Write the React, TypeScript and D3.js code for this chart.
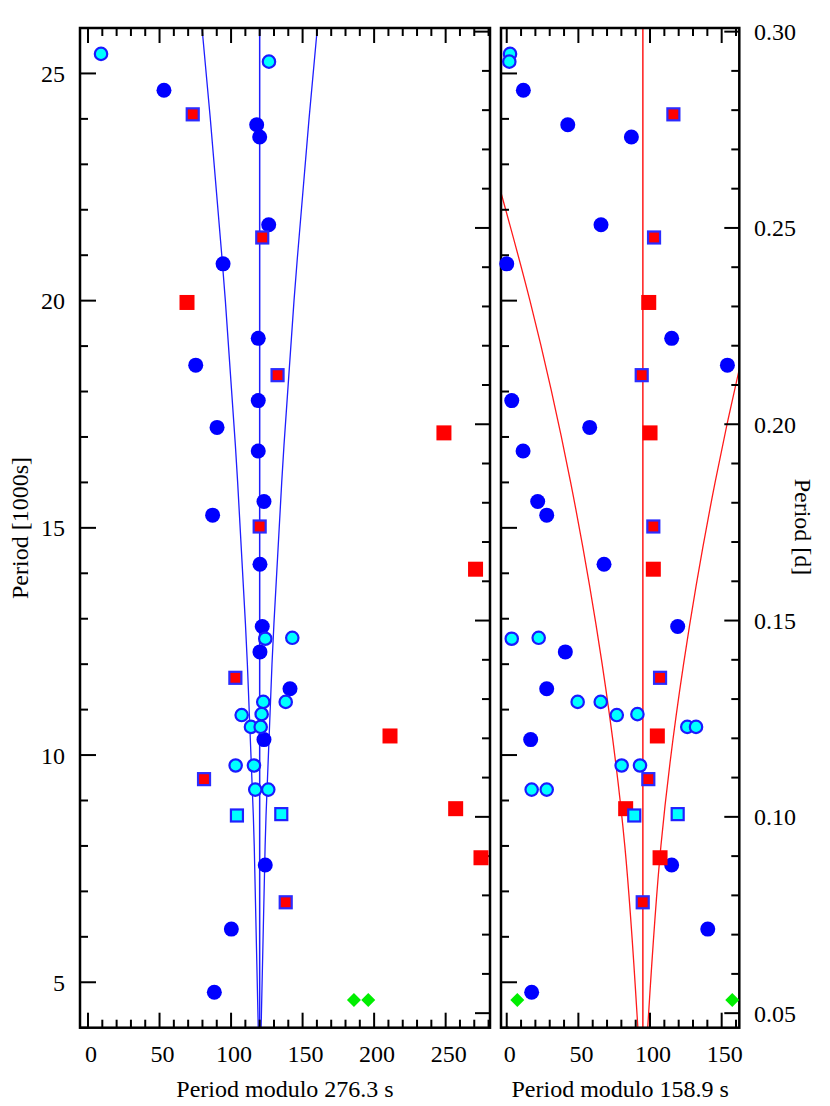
import React from 'react';
import * as d3 from 'd3';

// periods are in 1000 s; mod276 / mod159 are the phases (s)

// filled blue circles
const dotPeriod = [24.63, 23.87, 23.6, 21.67, 20.81, 19.17, 18.58, 17.8, 17.21, 16.69, 15.58, 15.28, 14.2, 12.83, 12.27, 11.46, 10.34, 7.58, 6.17, 4.78];
const dotMod276 = [53.1, 117.9, 120.0, 126.3, 94.4, 119.0, 75.3, 119.0, 90.2, 119.0, 123.0, 87.1, 120.2, 121.8, 120.2, 141.2, 123.0, 123.9, 100.2, 88.3];
const dotMod159 = [11.6, 42.6, 87.0, 65.8, 0.0, 115.1, 154.0, 3.5, 57.9, 11.4, 21.6, 27.9, 67.9, 119.3, 40.9, 27.9, 16.7, 115.1, 140.3, 17.4];

// cyan circles, blue rim
const ringPeriod = [25.43, 25.26, 12.56, 12.58, 11.17, 11.17, 10.88, 10.9, 10.62, 10.62, 9.77, 9.77, 9.24, 9.24];
const ringMod276 = [9.1, 126.5, 123.9, 142.8, 122.5, 138.2, 107.4, 121.4, 113.9, 120.7, 103.2, 116.0, 116.9, 126.0];
const ringMod159 = [2.3, 1.8, 3.5, 22.3, 49.5, 65.6, 76.8, 91.2, 126.0, 132.1, 80.2, 93.0, 17.4, 27.9];

// red squares, blue rim
const boxPeriod = [24.1, 21.39, 18.36, 15.03, 11.7, 9.47, 6.76];
const boxMod276 = [73.2, 121.8, 132.5, 120.0, 103.0, 81.1, 138.2];
const boxMod159 = [116.3, 102.8, 94.2, 102.3, 107.0, 98.8, 94.9];

// plain red squares
const redPeriod = [19.96, 17.09, 14.09, 10.42, 8.82, 7.74];
const redMod276 = [69.2, 248.8, 270.9, 211.1, 257.0, 274.7];
const redMod159 = [99.1, 100.0, 102.3, 105.1, 83.0, 107.0];

// cyan squares
const cyanBoxPeriod = [8.67, 8.7];
const cyanBoxMod276 = [104.1, 135.1];
const cyanBoxMod159 = [89.0, 119.3];

// green diamonds
const diamondPeriod = [4.61, 4.61];
const diamondMod276 = [185.9, 195.9];
const diamondMod159 = [7.4, 157.4];

// guide curves
const blueGuidePeriod = [4, 8, 12, 16, 20, 24, 26];
const blueGuideLeft = [119.0, 116.2, 111.4, 104.6, 96.0, 85.5, 79.7];
const blueGuideRight = [121.0, 123.8, 128.6, 135.4, 144.0, 154.5, 160.3];
const blueCentre = 120.0;

const redGuidePeriod = [4, 8, 12, 16, 20, 24];
const redGuideLeft = [91.5, 82.4, 66.6, 44.6, 16.2, -18.5];
const redGuideRight = [98.4, 107.6, 123.4, 145.4, 173.8, 208.5];
const redCentre = 95.0;

// ticks
const periodTicks = [5, 10, 15, 20, 25];
const dayTicks = [0.05, 0.1, 0.15, 0.2, 0.25, 0.3];
const mod276Ticks = [0, 50, 100, 150, 200, 250];
const mod159Ticks = [0, 50, 100, 150];

const WIDTH = 830;
const HEIGHT = 1106;
const TOP = 28;
const BOTTOM = 1027.7;
const FONT = "'Liberation Serif', 'Times New Roman', serif";

const y = d3.scaleLinear().domain([4, 26]).range([BOTTOM, TOP]);
const xA = d3.scaleLinear().domain([-5.6, 281]).range([80, 490]);
const xB = d3.scaleLinear().domain([-4, 162.3]).range([501, 739.3]);

function zipSeries(period, mods) {
  return period.map((p, i) => [mods[i], p]);
}

function Markers({ x, mods }) {
  const dots = zipSeries(dotPeriod, mods.dot);
  const rings = zipSeries(ringPeriod, mods.ring);
  const boxes = zipSeries(boxPeriod, mods.box);
  const reds = zipSeries(redPeriod, mods.red);
  const cyanBoxes = zipSeries(cyanBoxPeriod, mods.cyanBox);
  const diamonds = zipSeries(diamondPeriod, mods.diamond);
  return (
    <g>
      {dots.map((d, i) => (
        <circle key={'d' + i} cx={x(d[0])} cy={y(d[1])} r={7.5} fill="#0000ff" />
      ))}
      {rings.map((d, i) => (
        <circle key={'r' + i} cx={x(d[0])} cy={y(d[1])} r={6.2} fill="#00ffff" stroke="#1a1aff" strokeWidth={2.2} />
      ))}
      {boxes.map((d, i) => (
        <rect key={'b' + i} x={x(d[0]) - 6} y={y(d[1]) - 6} width={12} height={12} fill="#ff0000" stroke="#2b2bff" strokeWidth={2.2} />
      ))}
      {reds.map((d, i) => (
        <rect key={'q' + i} x={x(d[0]) - 7.5} y={y(d[1]) - 7.5} width={15} height={15} fill="#ff0000" />
      ))}
      {cyanBoxes.map((d, i) => (
        <rect key={'c' + i} x={x(d[0]) - 6} y={y(d[1]) - 6} width={12} height={12} fill="#00ffff" stroke="#2020ff" strokeWidth={2.2} />
      ))}
      {diamonds.map((d, i) => {
        const cx = x(d[0]);
        const cy = y(d[1]);
        const s = 7;
        return (
          <polygon key={'g' + i} points={`${cx},${cy - s} ${cx + s},${cy} ${cx},${cy + s} ${cx - s},${cy}`} fill="#00ee00" />
        );
      })}
    </g>
  );
}

function Panel({ x, majors, title, clipId, guides, guideColor, leftLabels, rightLabels }) {
  const [x0, x1] = x.range();
  const [d0, d1] = x.domain();
  const minorX = d3.range(Math.ceil(d0 / 10) * 10, d1, 10).filter((v) => !majors.includes(v) && v >= 0);
  const minorP = d3.range(4, 27).filter((v) => !periodTicks.includes(v));
  const minorD = d3.range(5, 31).map((v) => v / 100).filter((v) => !dayTicks.some((t) => Math.abs(t - v) < 1e-9));
  const line = d3
    .line()
    .x((d) => x(d[0]))
    .y((d) => y(d[1]))
    .curve(d3.curveNatural);

  const tick = (x1_, y1_, x2_, y2_, key) => (
    <line key={key} x1={x1_} y1={y1_} x2={x2_} y2={y2_} stroke="#000" strokeWidth={2} />
  );

  return (
    <g>
      <defs>
        <clipPath id={clipId}>
          <rect x={x0} y={TOP} width={x1 - x0} height={BOTTOM - TOP} />
        </clipPath>
      </defs>

      <g clipPath={`url(#${clipId})`}>
        {guides.curves.map((c, i) => (
          <path key={i} d={line(c)} fill="none" stroke={guideColor} strokeWidth={1.3} />
        ))}
        <line x1={x(guides.centre)} x2={x(guides.centre)} y1={y(4)} y2={y(26)} stroke={guideColor} strokeWidth={1.5} />
      </g>

      {/* bottom / top ticks */}
      {majors.map((v) => tick(x(v), BOTTOM, x(v), BOTTOM - 15, 'bM' + v))}
      {minorX.map((v) => tick(x(v), BOTTOM, x(v), BOTTOM - 8, 'bm' + v))}
      {majors.map((v) => tick(x(v), TOP, x(v), TOP + 15, 'tM' + v))}
      {minorX.map((v) => tick(x(v), TOP, x(v), TOP + 8, 'tm' + v))}

      {/* left side: period in 1000 s */}
      {periodTicks.map((v) => tick(x0, y(v), x0 + 16, y(v), 'lM' + v))}
      {minorP.map((v) => tick(x0, y(v), x0 + 8, y(v), 'lm' + v))}

      {/* right side: period in days */}
      {dayTicks.map((v) => tick(x1, y(v * 86.4), x1 - 15, y(v * 86.4), 'rM' + v))}
      {minorD.map((v) => tick(x1, y(v * 86.4), x1 - 8, y(v * 86.4), 'rm' + v))}

      <rect x={x0} y={TOP} width={x1 - x0} height={BOTTOM - TOP} fill="none" stroke="#000" strokeWidth={2.5} />

      {majors.map((v) => (
        <text key={'xl' + v} x={x(v) + 3} y={1062} textAnchor="middle" fontSize={24} fontFamily={FONT}>
          {v}
        </text>
      ))}
      {leftLabels &&
        periodTicks.map((v) => (
          <text key={'yl' + v} x={65} y={y(v) + 8.5} textAnchor="end" fontSize={24} fontFamily={FONT}>
            {v}
          </text>
        ))}
      {rightLabels &&
        dayTicks.map((v) => (
          <text key={'yr' + v} x={754} y={y(v * 86.4) + 8.5} textAnchor="start" fontSize={24} fontFamily={FONT}>
            {v.toFixed(2)}
          </text>
        ))}
      <text x={(x0 + x1) / 2} y={1097} textAnchor="middle" fontSize={24} fontFamily={FONT}>
        {title}
      </text>
    </g>
  );
}

export default function App() {
  const blueGuides = {
    centre: blueCentre,
    curves: [
      blueGuidePeriod.map((p, i) => [blueGuideLeft[i], p]),
      blueGuidePeriod.map((p, i) => [blueGuideRight[i], p]),
    ],
  };
  const redGuides = {
    centre: redCentre,
    curves: [
      redGuidePeriod.map((p, i) => [redGuideLeft[i], p]),
      redGuidePeriod.map((p, i) => [redGuideRight[i], p]),
    ],
  };
  const modsA = { dot: dotMod276, ring: ringMod276, box: boxMod276, red: redMod276, cyanBox: cyanBoxMod276, diamond: diamondMod276 };
  const modsB = { dot: dotMod159, ring: ringMod159, box: boxMod159, red: redMod159, cyanBox: cyanBoxMod159, diamond: diamondMod159 };

  return (
    <svg
      width={WIDTH}
      height={HEIGHT}
      style={{ position: 'absolute', left: 0, top: 0, background: '#fff' }}
    >
      <Panel x={xA} majors={mod276Ticks} title="Period modulo 276.3 s" clipId="clipA" guides={blueGuides} guideColor="#1e1eff" leftLabels rightLabels={false} />
      <Panel x={xB} majors={mod159Ticks} title="Period modulo 158.9 s" clipId="clipB" guides={redGuides} guideColor="#ff1a1a" leftLabels={false} rightLabels />
      <Markers x={xA} mods={modsA} />
      <Markers x={xB} mods={modsB} />
      <text transform="translate(28,528) rotate(-90)" textAnchor="middle" fontSize={24} fontFamily={FONT}>
        Period [1000s]
      </text>
      <text transform="translate(795,527) rotate(90)" textAnchor="middle" fontSize={24} fontFamily={FONT}>
        Period [d]
      </text>
    </svg>
  );
}
